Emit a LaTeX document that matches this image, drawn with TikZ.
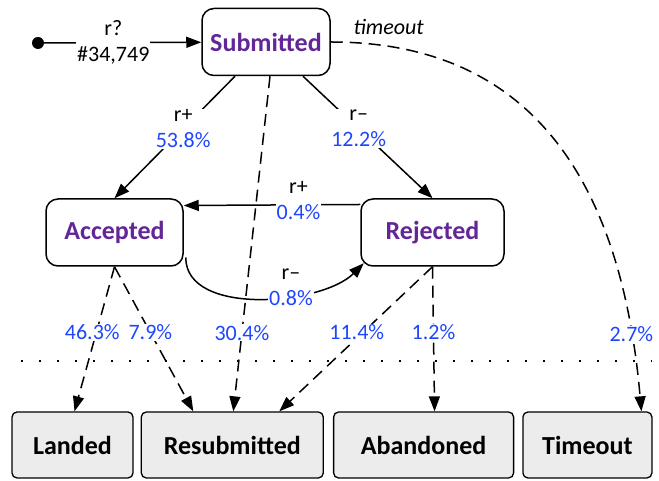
\documentclass[tikz,border=0pt]{standalone}
\usepackage{fontspec}
\setmainfont{Carlito}
\usetikzlibrary{positioning,arrows.meta}
\definecolor{statepurple}{RGB}{98,38,150}
\definecolor{ratioblue}{RGB}{30,70,255}
\definecolor{endgray}{RGB}{236,236,236}
\newcommand{\pct}[1]{\textcolor{ratioblue}{#1}}

\tikzset{
  state/.style={draw, fill=white, rounded corners=12pt, line width=1.5pt,
    minimum height=67pt, text=statepurple,
    font=\fontsize{26}{30}\selectfont\bfseries},
  final/.style={draw, fill=endgray, rounded corners=5pt, line width=1.3pt,
    minimum height=66pt, font=\fontsize{26}{30}\selectfont\bfseries},
  lbl/.style={fill=white, align=center, inner sep=1pt,
    font=\fontsize{22}{26}\selectfont},
  trans/.style={line width=1.5pt, -{Triangle[length=15pt,width=11pt]}},
  exit/.style={trans, dash pattern=on 12pt off 7pt},
}

\begin{document}
\begin{tikzpicture}[x=1pt,y=1pt]
  \useasboundingbox (0,0) rectangle (659,481);
  % states
  \node[state, minimum width=128pt] (sub) at (266,439) {Submitted};
  \node[state, minimum width=137pt] (acc) [below left=122pt and 17.5pt of sub] {Accepted};
  \node[state, minimum width=143pt] (rej) [right=176.5pt of acc] {Rejected};
  \node[circle, fill, inner sep=0pt, minimum size=12pt] (init) at (38,438) {};
  % outcomes
  \node[final, minimum width=121pt] (landed) at (72.5,36) {Landed};
  \node[final, minimum width=182pt] (resub) [right=7pt of landed] {Resubmitted};
  \node[final, minimum width=180pt] (aband) [right=9pt of resub] {Abandoned};
  \node[final, minimum width=129pt] (tmo) [right=8pt of aband] {Timeout};
  \draw[line width=1.3pt, dash pattern=on 2pt off 16pt] (21,120) -- (652,120);

  \draw[trans] (init) -- node[lbl, pos=0.44] {r?\\\#34,749} (sub);
  \draw[trans] ([xshift=-31pt]sub.south) -- node[lbl, pos=0.43] {r+\\\pct{53.8\%}} (acc.north);
  \draw[trans] ([xshift=37pt]sub.south) -- node[lbl, pos=0.43] {r--\\\pct{12.2\%}} (rej.north);
  \draw[trans] ([yshift=28pt]rej.west) -- node[lbl, pos=0.35, yshift=4pt] {r+\\\pct{0.4\%}} ([yshift=27pt]acc.east);
  \draw[trans] ([xshift=2pt,yshift=-25pt]acc.east) to[out=-90, in=-135, looseness=0.85]
    node[lbl, pos=0.6, xshift=8pt, yshift=9pt] {r--\\\pct{0.8\%}}
    ([shift={(3.5pt,3.5pt)}]rej.south west);

  % exits
  \draw[exit] (acc.south) -- node[lbl, pos=0.455, xshift=-4pt] {\pct{46.3\%}} ([xshift=2pt]landed.north);
  \draw[exit] (acc.south) -- node[lbl, pos=0.455] {\pct{7.9\%}} ([xshift=-39pt]resub.north);
  \draw[exit] ([xshift=4pt]sub.south) -- node[lbl, pos=0.765] {\pct{30.4\%}} ([xshift=1pt]resub.north);
  \draw[exit] (rej.south) -- node[lbl, pos=0.455, xshift=-6pt] {\pct{11.4\%}} ([xshift=47pt]resub.north);
  \draw[exit] (rej.south) -- node[lbl, pos=0.455] {\pct{1.2\%}} ([xshift=11pt]aband.north);
  \draw[exit] (sub.east) .. controls +(0:205) and +(95:225) ..
    node[pos=0.1, above=8pt, font=\fontsize{22}{26}\selectfont\itshape] {timeout}
    node[lbl, pos=0.88] {\pct{2.7\%}}
    ([xshift=54pt]tmo.north);
\end{tikzpicture}
\end{document}
